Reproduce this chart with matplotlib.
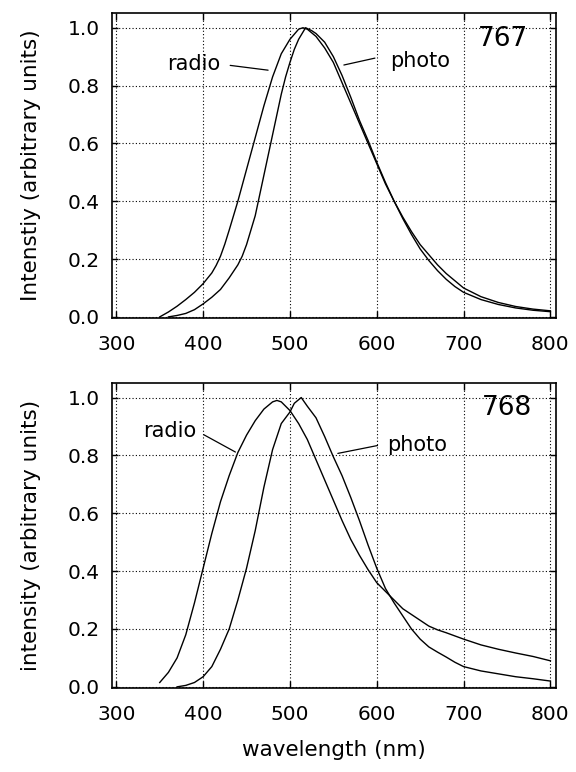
import matplotlib
matplotlib.use("Agg")
import matplotlib.pyplot as plt

# ---------------- data ----------------
# Panel 767
wl_767_radio = [350, 360, 370, 380, 390, 400, 410, 415, 420, 425, 430, 435, 440, 450,
                460, 470, 480, 490, 500, 510, 515, 520, 530, 540, 550, 560, 570, 580,
                590, 600, 610, 620, 630, 640, 650, 660, 670, 680, 690, 700, 720, 740,
                760, 780, 800]
int_767_radio = [0.0, 0.017, 0.037, 0.06, 0.085, 0.115, 0.152, 0.178, 0.21, 0.252, 0.30,
                 0.35, 0.40, 0.51, 0.62, 0.73, 0.83, 0.91, 0.96, 0.995, 1.0, 0.995,
                 0.97, 0.93, 0.88, 0.81, 0.74, 0.67, 0.60, 0.53, 0.46, 0.40, 0.345,
                 0.295, 0.25, 0.215, 0.18, 0.15, 0.125, 0.10, 0.07, 0.05, 0.036,
                 0.027, 0.021]

wl_767_photo = [360, 370, 380, 390, 400, 410, 420, 430, 440, 445, 450, 455, 460, 465,
                470, 475, 480, 485, 490, 495, 500, 505, 510, 518, 525, 530, 540, 550,
                560, 570, 580, 590, 600, 610, 620, 630, 640, 650, 660, 670, 680, 690,
                700, 720, 740, 760, 780, 800]
int_767_photo = [0.0, 0.005, 0.012, 0.025, 0.045, 0.068, 0.095, 0.135, 0.18, 0.21,
                 0.25, 0.30, 0.35, 0.42, 0.49, 0.56, 0.63, 0.70, 0.77, 0.83, 0.88,
                 0.925, 0.96, 1.0, 0.99, 0.98, 0.95, 0.90, 0.835, 0.76, 0.68, 0.61,
                 0.535, 0.465, 0.40, 0.34, 0.285, 0.235, 0.195, 0.16, 0.13, 0.105,
                 0.085, 0.06, 0.043, 0.031, 0.023, 0.018]

# Panel 768
wl_768_radio = [350, 360, 370, 380, 390, 400, 410, 420, 430, 440, 450, 460, 470, 480,
                485, 490, 500, 510, 520, 530, 540, 550, 560, 570, 580, 590, 600, 610,
                620, 630, 640, 650, 660, 670, 680, 690, 700, 720, 740, 760, 780, 800]
int_768_radio = [0.015, 0.05, 0.10, 0.18, 0.29, 0.41, 0.53, 0.64, 0.73, 0.81, 0.87,
                 0.92, 0.96, 0.985, 0.99, 0.985, 0.955, 0.91, 0.855, 0.785, 0.715,
                 0.645, 0.575, 0.51, 0.455, 0.405, 0.36, 0.33, 0.30, 0.27, 0.25, 0.23,
                 0.21, 0.197, 0.187, 0.176, 0.165, 0.145, 0.13, 0.117, 0.105, 0.09]

wl_768_photo = [370, 380, 390, 400, 410, 420, 430, 440, 450, 460, 470, 480, 490, 500,
                505, 513, 520, 530, 540, 550, 560, 570, 580, 590, 600, 610, 620, 630,
                640, 650, 660, 670, 680, 690, 700, 720, 740, 760, 780, 800]
int_768_photo = [0.0, 0.005, 0.015, 0.035, 0.07, 0.13, 0.20, 0.30, 0.41, 0.54, 0.69,
                 0.82, 0.91, 0.95, 0.98, 1.0, 0.97, 0.93, 0.865, 0.795, 0.73, 0.655,
                 0.575, 0.49, 0.41, 0.34, 0.29, 0.245, 0.20, 0.165, 0.138, 0.12,
                 0.103, 0.085, 0.07, 0.055, 0.045, 0.035, 0.028, 0.02]

x_ticks = [300, 400, 500, 600, 700, 800]
y_ticks = [0.0, 0.2, 0.4, 0.6, 0.8, 1.0]
y_tick_labels = ["0.0", "0.2", "0.4", "0.6", "0.8", "1.0"]

panels = [
    dict(tag="767", ylabel="Intenstiy (arbitrary units)",
         radio=(wl_767_radio, int_767_radio), photo=(wl_767_photo, int_767_photo),
         radio_txt=(389, 0.875), radio_tip=(478, 0.852), radio_start=(428, 0.871),
         photo_txt=(650, 0.886), photo_tip=(559, 0.869), photo_start=(601, 0.897),
         tag_xy=(745, 0.96), xlabel=None),
    dict(tag="768", ylabel="intensity (arbitrary units)",
         radio=(wl_768_radio, int_768_radio), photo=(wl_768_photo, int_768_photo),
         radio_txt=(362, 0.885), radio_tip=(440, 0.807), radio_start=(398, 0.876),
         photo_txt=(647, 0.837), photo_tip=(552, 0.805), photo_start=(604, 0.836),
         tag_xy=(750, 0.965), xlabel="wavelength (nm)"),
]

plt.rcParams["font.family"] = ["DejaVu Sans"]

fig = plt.figure(figsize=(5.76, 7.72), dpi=100)
positions = [[0.1944, 0.588, 0.7717, 0.3948], [0.1944, 0.1088, 0.7717, 0.395]]

for pos, p in zip(positions, panels):
    ax = fig.add_axes(pos)
    ax.plot(*p["radio"], color="black", lw=1.0)
    ax.plot(*p["photo"], color="black", lw=1.0)
    ax.set_xlim(295, 807)
    ax.set_ylim(-0.004, 1.05)
    ax.set_xticks(x_ticks)
    ax.set_yticks(y_ticks)
    ax.set_yticklabels(y_tick_labels)
    ax.grid(True, color="black", linestyle=(0, (1, 2)), linewidth=0.8)
    ax.tick_params(axis="both", direction="in", top=True, right=True,
                   labelsize=14.5, width=1.0)
    ax.tick_params(axis="x", length=5, pad=12.5)
    ax.tick_params(axis="y", length=4, pad=9)
    for s in ax.spines.values():
        s.set_linewidth(1.2)
    ax.set_ylabel(p["ylabel"], fontsize=15.5, labelpad=19)
    if p["xlabel"]:
        ax.set_xlabel(p["xlabel"], fontsize=15.5, labelpad=11)
    ax.annotate("", xy=p["radio_tip"], xytext=p["radio_start"],
                arrowprops=dict(arrowstyle="-", lw=0.9, color="black"))
    ax.text(*p["radio_txt"], "radio", fontsize=15, ha="center", va="center")
    ax.annotate("", xy=p["photo_tip"], xytext=p["photo_start"],
                arrowprops=dict(arrowstyle="-", lw=0.9, color="black"))
    ax.text(*p["photo_txt"], "photo", fontsize=15, ha="center", va="center")
    ax.text(*p["tag_xy"], p["tag"], fontsize=19, ha="center", va="center")

fig.savefig("out.png", dpi=100)
